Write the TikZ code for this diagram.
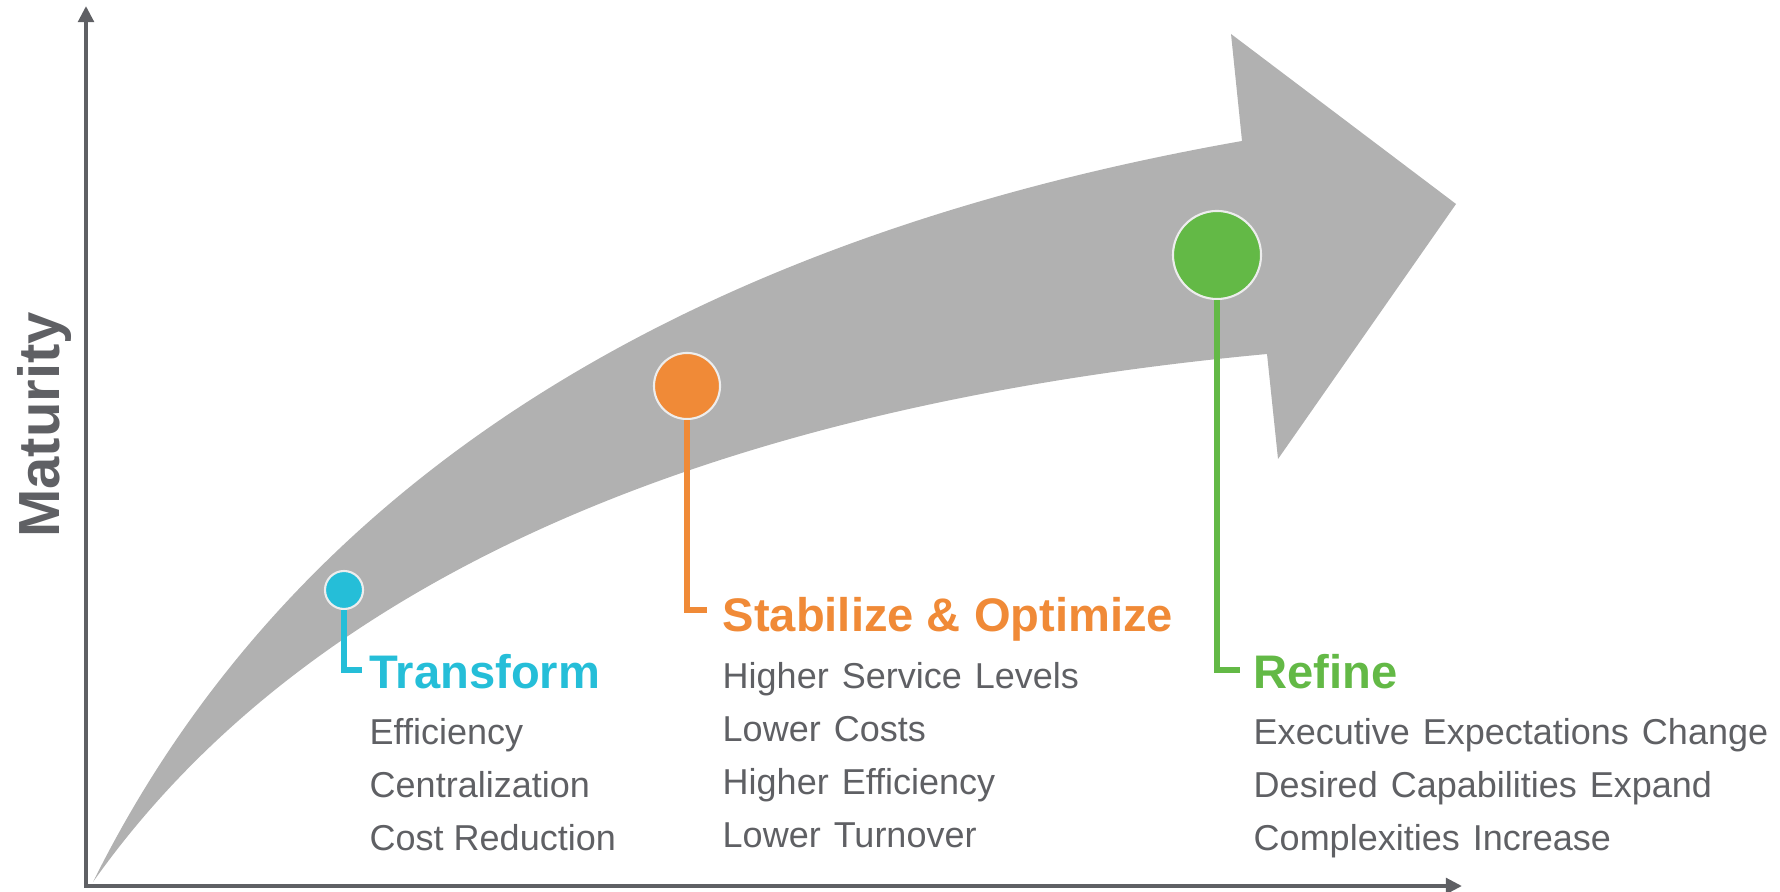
\documentclass[tikz,border=0pt]{standalone}
\usepackage{fontspec}
\setmainfont{Liberation Sans}
\usepackage{tikz}
\usetikzlibrary{arrows.meta,calc,positioning}
\definecolor{axisgray}{HTML}{5F6064}
\definecolor{bandgray}{HTML}{B1B1B1}
\definecolor{tfblue}{HTML}{25BED8}
\definecolor{soorange}{HTML}{F08A37}
\definecolor{rfgreen}{HTML}{63B946}
\tikzstyle{axis}=[
  draw=axisgray,
  line width=1.15pt,
]
\tikzstyle{dot}=[
  circle,
  draw=white!93!black,
  line width=0.6pt,
  inner sep=0pt,
]
\tikzstyle{stem}=[
  line width=1.75pt,
]
\tikzstyle{heading}=[
  font={\fontsize{13.4}{16}\selectfont\bfseries},
  inner sep=0pt,
  anchor=base west,
]
\tikzstyle{bodytext}=[
  font={\fontsize{10.24}{12}\selectfont},
  text=axisgray,
  inner sep=0pt,
  anchor=base west,
]
\tikzstyle{widebody}=[
  bodytext,
  font={\fontsize{10.24}{12}\selectfont\spaceskip=3.7pt\relax},
]
\tikzset{
  >={Triangle[width=4.4pt,length=4.6pt]},
}
\begin{document}
\begin{tikzpicture}[x=0.01cm, y=-0.01cm]
      \useasboundingbox (0,0) rectangle (1780,892);
      %% band
      \fill [bandgray] (93,882) .. controls (290,485) and (680,240) .. (1242,141)
      -- (1231,34) -- (1456,204) -- (1278,459) -- (1267,354)
      .. controls (720,405) and (310,575) .. (93,882) -- cycle;
      %% axes
      \coordinate (origin) at (86,886);
      \coordinate (ytip) at (86,6);
      \coordinate (xtip) at (1462,886);
      \draw [<->, axis] (ytip) -- (origin) -- (xtip);
      \node (maturity) [rotate=90, anchor=base, text=axisgray,
        font={\fontsize{16.5}{20}\selectfont\bfseries}] at (59,425) {Maturity};
      %%
      \node (tfhead) [heading, text=tfblue] at (369,688) {Transform};
      \node (tf1) [bodytext, below=0.56cm of tfhead.base west, anchor=base west] {Efficiency};
      \node (tf2) [bodytext, below=0.53cm of tf1.base west, anchor=base west] {Centralization};
      \node (tf3) [bodytext, below=0.53cm of tf2.base west, anchor=base west] {Cost Reduction};
      %%
      \node (sohead) [heading, text=soorange] at (722,632) {Stabilize \& Optimize};
      \node (so1) [widebody, below=0.56cm of sohead.base west, anchor=base west] {Higher Service Levels};
      \node (so2) [widebody, below=0.53cm of so1.base west, anchor=base west] {Lower Costs};
      \node (so3) [widebody, below=0.53cm of so2.base west, anchor=base west] {Higher Efficiency};
      \node (so4) [widebody, below=0.53cm of so3.base west, anchor=base west] {Lower Turnover};
      %%
      \node (rfhead) [heading, text=rfgreen] at (1253,688) {Refine};
      \node (rf1) [widebody, below=0.56cm of rfhead.base west, anchor=base west] {Executive Expectations Change};
      \node (rf2) [widebody, below=0.53cm of rf1.base west, anchor=base west] {Desired Capabilities Expand};
      \node (rf3) [widebody, below=0.53cm of rf2.base west, anchor=base west] {Complexities Increase};
      %% dots and stems
      \node (tfdot) [dot, fill=tfblue, minimum size=0.38cm] at (344,590) {};
      \node (sodot) [dot, fill=soorange, minimum size=0.66cm] at (687,386) {};
      \node (rfdot) [dot, fill=rfgreen, minimum size=0.88cm] at (1217,255) {};
      \coordinate (tfbend) at ($(tfhead.base west)+(-7,-18)$);
      \coordinate (sobend) at ($(sohead.base west)+(-15,-22)$);
      \coordinate (rfbend) at ($(rfhead.base west)+(-13,-18)$);
      \draw [stem, tfblue] (tfdot.south) |- (tfbend);
      \draw [stem, soorange] (sodot.south) |- (sobend);
      \draw [stem, rfgreen] (rfdot.south) |- (rfbend);
    \end{tikzpicture}
\end{document}
